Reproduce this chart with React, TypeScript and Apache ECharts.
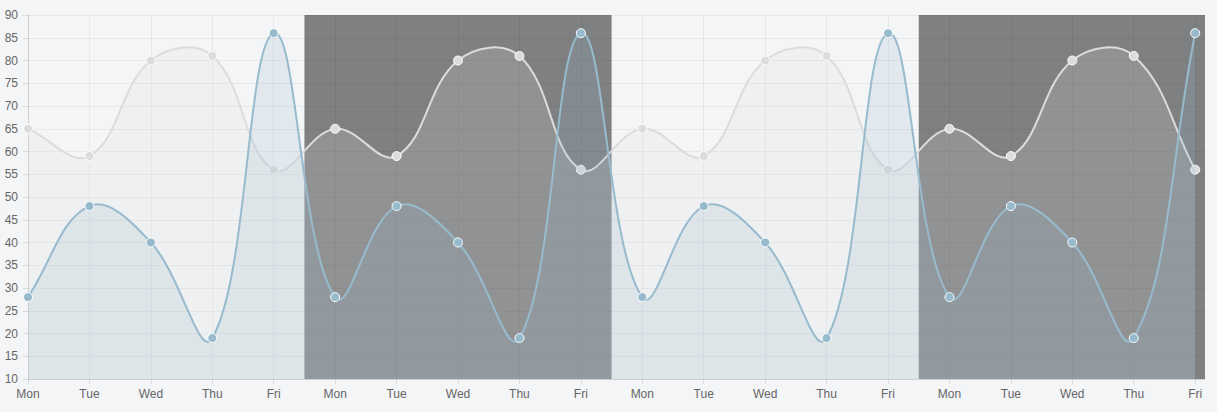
import React, { useEffect, useRef } from "react";
import * as echarts from "echarts";

const dayLabels = [
  "Mon", "Tue", "Wed", "Thu", "Fri",
  "Mon", "Tue", "Wed", "Thu", "Fri",
  "Mon", "Tue", "Wed", "Thu", "Fri",
  "Mon", "Tue", "Wed", "Thu", "Fri",
];
const greyValues = [
  65, 59, 80, 81, 56,
  65, 59, 80, 81, 56,
  65, 59, 80, 81, 56,
  65, 59, 80, 81, 56,
];
const blueValues = [
  28, 48, 40, 19, 86,
  28, 48, 40, 19, 86,
  28, 48, 40, 19, 86,
  28, 48, 40, 19, 86,
];
// category index ranges that are shaded dark
const shadedRanges: [number, number][] = [
  [5, 9],
  [15, 19],
];
const yMin = 10;
const yMax = 90;
const yStep = 5;

const AXIS_MAX = 19.16;
const TENSION = 0.4;
const BG = "#f4f5f7";
const GREY = "rgba(220,220,220,1)";
const BLUE = "rgba(151,187,205,1)";
const FONT = "'Liberation Sans', Arial, sans-serif";

type Pt = [number, number];

// Chart.js-style spline path built from pixel coordinates given by the axes
function buildPaths(pts: Pt[], top: number, bottom: number) {
  const clampY = (y: number) => Math.max(top, Math.min(bottom, y));
  const cps = pts.map((p, i) => {
    const prev = i > 0 ? pts[i - 1] : p;
    const next = i < pts.length - 1 ? pts[i + 1] : p;
    const d01 = Math.hypot(p[0] - prev[0], p[1] - prev[1]);
    const d12 = Math.hypot(next[0] - p[0], next[1] - p[1]);
    const sum = d01 + d12 || 1;
    const fa = (TENSION * d01) / sum;
    const fb = (TENSION * d12) / sum;
    return {
      inner: [p[0] - fa * (next[0] - prev[0]), clampY(p[1] - fa * (next[1] - prev[1]))] as Pt,
      outer: [p[0] + fb * (next[0] - prev[0]), clampY(p[1] + fb * (next[1] - prev[1]))] as Pt,
    };
  });
  let d = `M${pts[0][0]},${pts[0][1]}`;
  for (let i = 1; i < pts.length; i++) {
    const a = cps[i - 1].outer;
    const b = cps[i].inner;
    d += ` C${a[0]},${a[1]} ${b[0]},${b[1]} ${pts[i][0]},${pts[i][1]}`;
  }
  const last = pts[pts.length - 1];
  const area = `${d} L${last[0]},${bottom} L${pts[0][0]},${bottom} Z`;
  return { line: d, area };
}

function curveSeries(values: number[], color: string, fill: string, z: number) {
  return {
    type: "custom",
    z,
    silent: true,
    clip: true,
    data: values.map((v, i) => [i, v]),
    renderItem: (params: any, api: any) => {
      if (params.dataIndex !== 0) return null;
      const pts: Pt[] = values.map((v, i) => api.coord([i, v]) as Pt);
      const topY = api.coord([0, yMax])[1];
      const botY = api.coord([0, yMin])[1];
      const { line, area } = buildPaths(pts, topY, botY);
      return {
        type: "group",
        children: [
          { type: "path", shape: { pathData: area }, style: { fill, stroke: "none" } },
          {
            type: "path",
            shape: { pathData: line },
            style: { fill: "none", stroke: color, lineWidth: 2 },
          },
        ],
      };
    },
  };
}

function pointSeries(values: number[], color: string, z: number) {
  return {
    type: "scatter",
    z,
    silent: true,
    data: values.map((v, i) => [i, v]),
    symbol: "circle",
    symbolSize: 9,
    itemStyle: { color, borderColor: "#fff", borderWidth: 1, opacity: 1 },
  };
}

export default function App() {
  const ref = useRef<HTMLDivElement>(null);
  useEffect(() => {
    document.body.style.margin = "0";
    document.body.style.background = BG;
    if (!ref.current) return;
    const chart = echarts.init(ref.current, undefined, { renderer: "svg" });
    const idx = dayLabels.map((_, i) => i);
    chart.setOption({
      animation: false,
      backgroundColor: BG,
      textStyle: { fontFamily: FONT },
      grid: { left: 28, right: 12, top: 15, bottom: 33 },
      xAxis: {
        type: "value",
        min: 0,
        max: AXIS_MAX,
        interval: 1,
        axisLine: { show: true, lineStyle: { color: "rgba(0,0,0,0.1)" } },
        axisTick: { show: true, length: 5, lineStyle: { color: "rgba(0,0,0,0.1)" }, customValues: idx },
        axisLabel: {
          color: "#666",
          fontSize: 12,
          fontFamily: FONT,
          margin: 9,
          customValues: idx,
          formatter: (v: number) => (Number.isInteger(v) ? dayLabels[v] ?? "" : ""),
        },
        splitLine: { show: true, lineStyle: { color: "rgba(0,0,0,0.05)" } },
      },
      yAxis: {
        type: "value",
        min: yMin,
        max: yMax,
        interval: yStep,
        axisLine: { show: true, lineStyle: { color: "rgba(0,0,0,0.1)" } },
        axisTick: { show: true, length: 5, lineStyle: { color: "rgba(0,0,0,0.1)" } },
        axisLabel: { color: "#666", fontSize: 12, fontFamily: FONT, margin: 10 },
        splitLine: { show: true, lineStyle: { color: "rgba(0,0,0,0.05)" } },
      },
      series: [
        {
          type: "line",
          data: [],
          z: 1,
          silent: true,
          markArea: {
            silent: true,
            itemStyle: { color: "rgba(0,0,0,0.48)" },
            data: shadedRanges.map(([a, b]) => [
              { xAxis: a - 0.5 },
              { xAxis: Math.min(b + 0.5, AXIS_MAX) },
            ]),
          },
        },
        curveSeries(greyValues, GREY, "rgba(220,220,220,0.2)", 2),
        pointSeries(greyValues, GREY, 3),
        curveSeries(blueValues, BLUE, "rgba(151,187,205,0.2)", 4),
        pointSeries(blueValues, BLUE, 5),
      ],
    });
    return () => chart.dispose();
  }, []);
  return <div ref={ref} style={{ width: 1217, height: 412 }} />;
}
